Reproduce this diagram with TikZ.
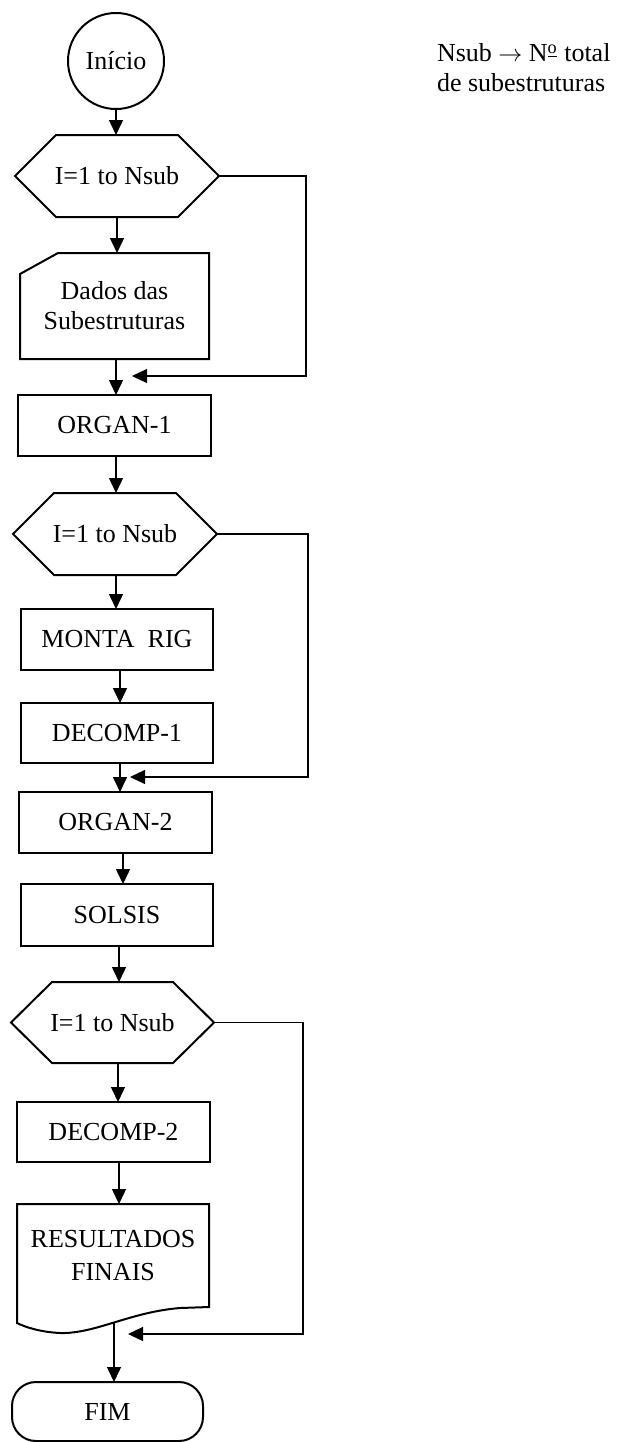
\documentclass[tikz,border=0pt]{standalone}
\usepackage{fontspec}
\setmainfont{Liberation Serif}
\usetikzlibrary{arrows.meta}
\newcommand\hexpath[1]{\draw[frame] (#1.west) -- ([xshift=20.5pt]#1.north west) -- ([xshift=-20.5pt]#1.north east) -- (#1.east) -- ([xshift=-20.5pt]#1.south east) -- ([xshift=20.5pt]#1.south west) -- cycle;}
\begin{document}
\begin{tikzpicture}[x=0.5pt,y=-0.5pt,
  txt/.style={font=\fontsize{13}{15}\selectfont, align=center, inner sep=0pt, outer sep=0pt},
  box/.style={txt, draw, line width=1pt},
  shapeonly/.style={txt, draw=none},
  frame/.style={line width=1pt, line join=miter},
  arr/.style={line width=0.7pt, -{Triangle[length=7.5pt,width=7pt]}},
  back/.style={line width=0.6pt, -{Triangle[length=7.5pt,width=7pt]}}]
\useasboundingbox (0,0) rectangle (621,1442);

% main column
\node[box, circle, minimum size=48pt] (ini) at (116,61) {Início};
\node[shapeonly, minimum width=102pt, minimum height=41pt] (h1) at (117,176) {I=1 to Nsub};
\node[shapeonly, minimum width=94.5pt, minimum height=53pt] (dad) at (114.5,306) {Dados das\\Subestruturas};
\node[box, minimum width=96.5pt, minimum height=30.5pt] (org1) at (114.5,425.5) {ORGAN-1};
\node[shapeonly, minimum width=102pt, minimum height=41pt] (h2) at (115,534) {I=1 to Nsub};
\node[box, minimum width=96pt, minimum height=30.5pt] (mon) at (117,639.5) {MONTA~~RIG};
\node[box, minimum width=96pt, minimum height=30pt] (dec1) at (117,733) {DECOMP-1};
\node[box, minimum width=96.5pt, minimum height=30.5pt] (org2) at (115.5,822.5) {ORGAN-2};
\node[box, minimum width=96pt, minimum height=31pt] (sol) at (117,915) {SOLSIS};
\node[shapeonly, minimum width=101.5pt, minimum height=40.5pt] (h3) at (112.5,1022.5) {I=1 to Nsub};
\node[box, minimum width=96.5pt, minimum height=30pt] (dec2) at (113.5,1132) {DECOMP-2};
\node[shapeonly, font=\fontsize{13}{16.5}\selectfont, minimum width=96pt, minimum height=51.5pt] (res) at (113,1255.5) {RESULTADOS\\FINAIS};
\node[box, rounded corners=12pt, minimum width=95.5pt, minimum height=29.5pt] (fim) at (107.5,1411.5) {FIM};

% note
\node[txt, align=left, anchor=west] (note) at (437,68) {Nsub $\rightarrow$ N\textsuperscript{\underline{o}} total\\de subestruturas};

% outlines of the special shapes
\hexpath{h1}
\hexpath{h2}
\hexpath{h3}
\draw[frame] ([yshift=-10.5pt]dad.north west) -- ([xshift=19pt]dad.north west) -- (dad.north east) -- (dad.south east) -- (dad.south west) -- cycle;
\draw[frame] (res.south west) ++(0,16) coordinate (rsw) (res.north west) -- (res.north east) -- (res.south east)
  -- ++(-29,1) .. controls ++(-50,4) and (95,1334) .. (60,1333) .. controls (40,1332) and (25,1327) .. (rsw) -- cycle;

% flow connectors
\draw[arr] (ini.south) -- (ini.south |- h1.north);
\draw[arr] (h1.south) -- (h1.south |- dad.north);
\draw[arr] ([xshift=0.75pt]dad.south) -- ([xshift=0.75pt]dad.south |- org1.north);
\draw[arr] ([xshift=0.75pt]org1.south) -- ([xshift=0.75pt]org1.south |- h2.north);
\draw[arr] ([xshift=0.5pt]h2.south) -- ([xshift=0.5pt]h2.south |- mon.north);
\draw[arr] ([xshift=1.5pt]mon.south) -- ([xshift=1.5pt]mon.south |- dec1.north);
\draw[arr] ([xshift=1.5pt]dec1.south) -- ([xshift=1.5pt]dec1.south |- org2.north);
\draw[arr] ([xshift=3.75pt]org2.south) -- ([xshift=3.75pt]org2.south |- sol.north);
\draw[arr] ([xshift=1pt]sol.south) -- ([xshift=1pt]sol.south |- h3.north);
\draw[arr] ([xshift=2.75pt]h3.south) -- ([xshift=2.75pt]h3.south |- dec2.north);
\draw[arr] ([xshift=2.75pt]dec2.south) -- ([xshift=2.75pt]dec2.south |- res.north);
\draw[arr] ([xshift=0.5pt,yshift=-7.5pt]res.south) -- ([xshift=0.5pt]res.south |- fim.north);

% loop return lines
\coordinate (c1) at (306,376);
\coordinate (j1) at (132,376);
\coordinate (c2) at (308,777);
\coordinate (j2) at (130,777);
\coordinate (c3) at (303,1334);
\coordinate (j3) at (128,1334);
\draw[back] (h1.east) -| (c1) -- (j1);
\draw[back] (h2.east) -| (c2) -- (j2);
\draw[back] (h3.east) -| (c3) -- (j3);
\end{tikzpicture}
\end{document}
